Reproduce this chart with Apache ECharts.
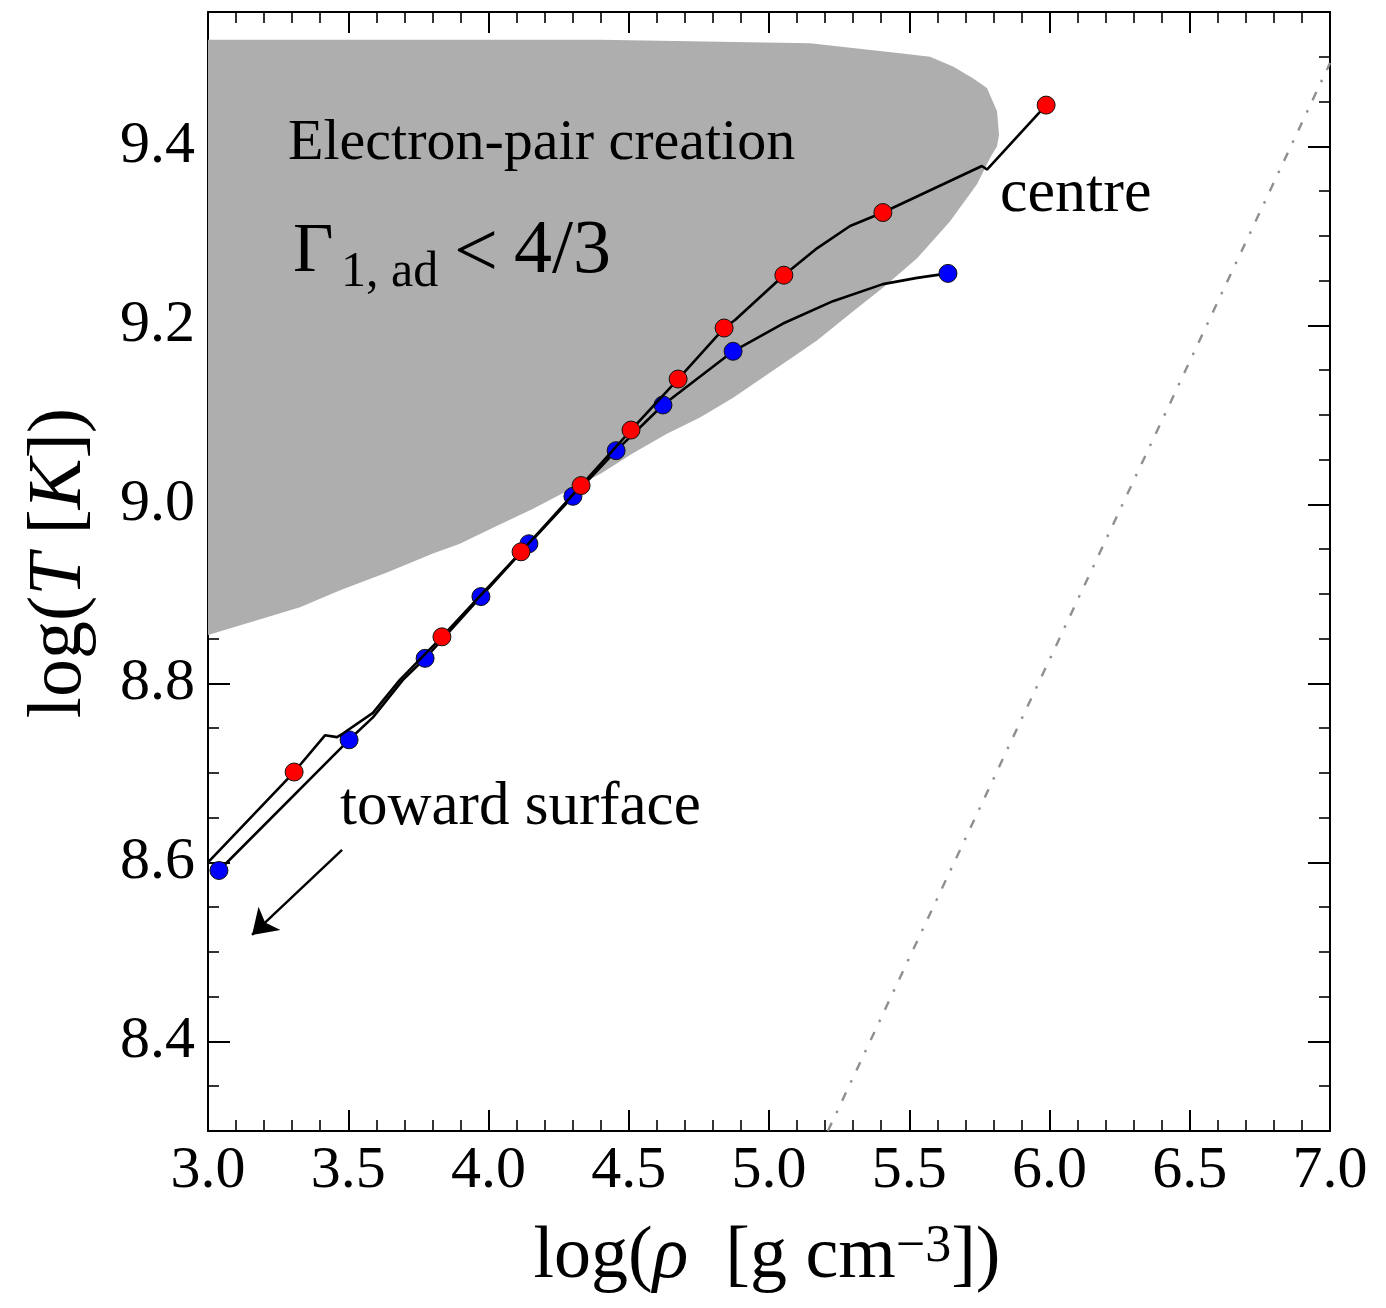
<!DOCTYPE html>
<html>
<head>
<meta charset="utf-8">
<script src="https://cdn.jsdelivr.net/npm/echarts@6/dist/echarts.min.js"></script>
<style>
  html, body { margin: 0; padding: 0; background: #ffffff; }
  #chart { width: 1386px; height: 1308px; }
</style>
</head>
<body>
<div id="chart"></div>
<script>
// Red model: density-temperature profile, log(rho) vs log(T)
const redProfile = [
  [3.000, 8.600], [3.307, 8.701], [3.417, 8.742], [3.460, 8.740], [3.481, 8.744],
  [3.588, 8.767], [3.684, 8.804], [3.834, 8.852], [4.116, 8.947], [4.330, 9.021],
  [4.508, 9.083], [4.676, 9.140], [4.840, 9.197], [4.879, 9.206], [5.053, 9.256],
  [5.171, 9.286], [5.289, 9.311], [5.406, 9.326], [5.759, 9.378], [5.777, 9.374],
  [5.988, 9.446]
];
// Red model: sampled shells
const redPoints = [
  [3.307, 8.701], [3.834, 8.852], [4.116, 8.947], [4.330, 9.021], [4.508, 9.083],
  [4.676, 9.140], [4.840, 9.197], [5.053, 9.256], [5.406, 9.326], [5.988, 9.446]
];
// Blue model: density-temperature profile
const blueProfile = [
  [3.039, 8.591], [3.503, 8.737], [3.588, 8.762], [3.695, 8.804], [3.774, 8.828],
  [3.973, 8.897], [4.144, 8.956], [4.301, 9.009], [4.455, 9.060], [4.622, 9.111],
  [4.872, 9.171], [5.050, 9.202], [5.228, 9.227], [5.406, 9.246], [5.528, 9.253],
  [5.638, 9.258]
];
// Blue model: sampled shells
const bluePoints = [
  [3.039, 8.591], [3.503, 8.737], [3.774, 8.828], [3.973, 8.897], [4.144, 8.956],
  [4.301, 9.009], [4.455, 9.060], [4.622, 9.111], [4.872, 9.171], [5.638, 9.258]
];
// Boundary of the pair-instability region (Gamma_1,ad < 4/3)
const pairRegion = [
  [3.000, 9.519], [4.397, 9.519], [5.146, 9.515], [5.467, 9.504], [5.574, 9.500],
  [5.656, 9.489], [5.727, 9.476], [5.777, 9.465], [5.813, 9.439], [5.820, 9.413],
  [5.813, 9.400], [5.788, 9.387], [5.742, 9.358], [5.645, 9.316], [5.528, 9.275],
  [5.406, 9.242], [5.289, 9.213], [5.171, 9.183], [5.050, 9.157], [4.872, 9.119],
  [4.754, 9.097], [4.636, 9.079], [4.515, 9.057], [4.398, 9.034], [4.280, 9.015],
  [4.159, 8.995], [4.016, 8.974], [3.898, 8.956], [3.802, 8.945], [3.638, 8.924],
  [3.471, 8.904], [3.328, 8.885], [3.210, 8.874], [3.000, 8.854]
];
// Electron degeneracy boundary, T ~ rho^(2/3)
const degeneracyLine = [[5.21, 8.300], [7.00, 9.493]];
// "toward surface" arrow, tail then head
const surfaceArrow = [[3.478, 8.614], [3.157, 8.519]];
// Labelled ticks on the temperature axis
const yMajorTicks = [8.4, 8.6, 8.8, 9.0, 9.2, 9.4];

const SERIF = '"Liberation Serif", "Times New Roman", serif';
const BLACK = '#000000';

const chart = echarts.init(document.getElementById('chart'), null, { renderer: 'canvas' });

const isMajorY = v => Math.abs(v * 5 - Math.round(v * 5)) < 1e-6;

function xAxisDef(pos, showLabel) {
  return {
    type: 'value', position: pos, min: 3, max: 7, interval: 0.5,
    axisLine: { show: true, onZero: false, lineStyle: { color: BLACK, width: 2 } },
    axisTick: { show: true, inside: true, length: 21, lineStyle: { color: BLACK, width: 2 } },
    minorTick: { show: true, splitNumber: 5, length: 11, lineStyle: { color: BLACK, width: 1.6 } },
    splitLine: { show: false },
    minorSplitLine: { show: false },
    axisLabel: {
      show: showLabel, margin: 10, color: BLACK, fontFamily: SERIF, fontSize: 60,
      formatter: v => v.toFixed(1)
    }
  };
}

function yMinorAxis(pos, showLabel) {
  return {
    type: 'value', position: pos, min: 8.3, max: 9.55, interval: 0.05,
    axisLine: { show: true, onZero: false, lineStyle: { color: BLACK, width: 2 } },
    axisTick: { show: true, inside: true, length: 11, lineStyle: { color: BLACK, width: 1.6 } },
    splitLine: { show: false },
    axisLabel: {
      show: showLabel, margin: 13, color: BLACK, fontFamily: SERIF, fontSize: 60,
      showMinLabel: true, showMaxLabel: true,
      formatter: v => (isMajorY(v) ? v.toFixed(1) : '')
    }
  };
}

function yMajorAxis(pos) {
  return {
    type: 'value', position: pos, min: 8.3, max: 9.55,
    axisLine: { show: false, onZero: false },
    axisTick: { show: true, inside: true, length: 22, customValues: yMajorTicks,
                lineStyle: { color: BLACK, width: 2 } },
    splitLine: { show: false },
    axisLabel: { show: false }
  };
}

const textStyle = (text, size, x, y) => ({
  type: 'text', z: 100, x: x, y: y,
  style: { text: text, font: size + 'px ' + SERIF, fill: BLACK,
           align: 'left', verticalAlign: 'middle', textAlign: 'left', textVerticalAlign: 'middle' }
});

const option = {
  backgroundColor: '#ffffff',
  animation: false,
  grid: { left: 208, right: 56, top: 12, bottom: 177, containLabel: false },
  xAxis: [xAxisDef('bottom', true), xAxisDef('top', false)],
  yAxis: [yMinorAxis('left', true), yMajorAxis('left'), yMinorAxis('right', false), yMajorAxis('right')],
  series: [
    {
      name: 'pair region', type: 'custom', silent: true, z: 1, clip: true,
      data: [[3, 9]],
      renderItem: (params, api) => ({
        type: 'polygon',
        shape: { points: pairRegion.map(p => api.coord(p)) },
        style: { fill: '#aeaeae', stroke: null }
      })
    },
    {
      name: 'degeneracy', type: 'line', data: degeneracyLine, z: 2,
      symbol: 'none', silent: true, clip: true,
      lineStyle: { color: '#8f8f8f', width: 2.4, type: [9, 11, 2.5, 11] }
    },
    {
      name: 'blue profile', type: 'line', data: blueProfile, z: 3,
      symbol: 'none', silent: true, smooth: false,
      lineStyle: { color: BLACK, width: 2.6 }
    },
    {
      name: 'blue shells', type: 'scatter', data: bluePoints, z: 4,
      symbol: 'circle', symbolSize: 18, silent: true,
      itemStyle: { color: '#0000ff', borderColor: '#111111', borderWidth: 1, opacity: 1 }
    },
    {
      name: 'red profile', type: 'line', data: redProfile, z: 5,
      symbol: 'none', silent: true, smooth: false,
      lineStyle: { color: BLACK, width: 2.6 }
    },
    {
      name: 'red shells', type: 'scatter', data: redPoints, z: 6,
      symbol: 'circle', symbolSize: 18, silent: true,
      itemStyle: { color: '#ff0000', borderColor: '#111111', borderWidth: 1, opacity: 1 }
    },
    {
      name: 'surface arrow', type: 'lines', coordinateSystem: 'cartesian2d', z: 7,
      silent: true, symbol: ['none', 'arrow'], symbolSize: 24,
      lineStyle: { color: BLACK, width: 2.4, opacity: 1, curveness: 0 },
      data: [{ coords: surfaceArrow }]
    }
  ],
  graphic: [
    textStyle('Electron-pair creation', 58, 288, 144),
    textStyle('Γ', 70, 293, 253),
    textStyle('1, ad', 50, 341, 273),
    textStyle('<', 78, 454, 256),
    textStyle('4/3', 76, 514, 252),
    textStyle('centre', 62, 1000, 195),
    textStyle('toward surface', 61, 340, 808),
    {
      type: 'text', z: 100, x: 767, y: 1258,
      style: {
        text: '{a|log(}{i|ρ}{a|  [g cm}{s|−3}{a|])}',
        align: 'center', verticalAlign: 'middle', textAlign: 'center', textVerticalAlign: 'middle',
        fill: BLACK,
        rich: {
          a: { fontFamily: SERIF, fontSize: 74, fill: BLACK, color: BLACK },
          i: { fontFamily: SERIF, fontSize: 74, fontStyle: 'italic', fill: BLACK, color: BLACK },
          s: { fontFamily: SERIF, fontSize: 52, fill: BLACK, color: BLACK, verticalAlign: 'top' }
        }
      }
    },
    {
      type: 'text', z: 100, x: 60, y: 563, rotation: Math.PI / 2,
      style: {
        text: '{a|log(}{i|T}{a| [}{i|K}{a|])}',
        align: 'center', verticalAlign: 'middle', textAlign: 'center', textVerticalAlign: 'middle',
        fill: BLACK,
        rich: {
          a: { fontFamily: SERIF, fontSize: 76, fill: BLACK, color: BLACK },
          i: { fontFamily: SERIF, fontSize: 76, fontStyle: 'italic', fill: BLACK, color: BLACK }
        }
      }
    }
  ]
};

chart.setOption(option);
</script>
</body>
</html>
